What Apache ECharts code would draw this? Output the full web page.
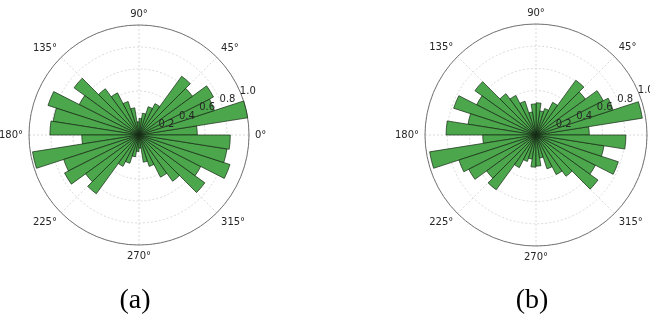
<!DOCTYPE html>
<html>
<head>
<meta charset="utf-8">
<script src="https://cdn.jsdelivr.net/npm/echarts@6/dist/echarts.min.js"></script>
<style>
  html, body { margin: 0; padding: 0; background: #fff; }
  #chart { width: 650px; height: 326px; }
</style>
</head>
<body>
<div id="chart"></div>
<script>
// 40 direction bins of 9 degrees, counter-clockwise from 0 deg
var binNames = []
for (var i = 0; i < 40; i++) binNames.push(i * 9 + '-' + (i + 1) * 9)

// normalised counts per bin, panel (a)
var countsA = [
  0.53, 1.00, 0.72, 0.76, 0.60, 0.66, 0.32, 0.27, 0.20, 0.15,
  0.12, 0.25, 0.32, 0.43, 0.52, 0.73, 0.61, 0.87, 0.79, 0.81,
  0.52, 0.98, 0.72, 0.76, 0.60, 0.66, 0.32, 0.27, 0.20, 0.15,
  0.12, 0.25, 0.30, 0.43, 0.52, 0.74, 0.63, 0.87, 0.81, 0.83
]
// panel (b)
var countsB = [
  0.48, 0.97, 0.73, 0.68, 0.55, 0.61, 0.33, 0.25, 0.22, 0.29,
  0.28, 0.21, 0.32, 0.40, 0.46, 0.68, 0.60, 0.78, 0.62, 0.81,
  0.48, 0.97, 0.73, 0.68, 0.55, 0.61, 0.33, 0.25, 0.22, 0.29,
  0.28, 0.21, 0.32, 0.40, 0.46, 0.69, 0.60, 0.78, 0.62, 0.81
]
var radiusTicks = [0, 0.2, 0.4, 0.6, 0.8, 1.0]
var panelNames = ['(a)', '(b)']

var centers = [[139, 135], [536, 135]]
var radii = [110, 111]
var txt = '#262626'

var polar = [], angleAxis = [], radiusAxis = [], series = []

centers.forEach(function (c, k) {
  // grid + angle labels
  polar.push({ center: c, radius: radii[k] })
  angleAxis.push({
    polarIndex: 3 * k, type: 'value', min: 0, max: 360, interval: 45,
    startAngle: 0, clockwise: false, z: 1,
    axisLine: { lineStyle: { color: '#555', width: 0.8 } },
    axisTick: { show: false },
    splitLine: { lineStyle: { color: '#d0d0d0', type: [2, 2], width: 0.8 } },
    axisLabel: {
      margin: 6, color: txt, fontSize: 10, fontFamily: 'DejaVu Sans',
      formatter: function (v) { return v === 360 ? '' : v + '°' }
    }
  })
  radiusAxis.push({
    polarIndex: 3 * k, type: 'value', min: 0, max: 1, interval: 0.2, z: 1,
    axisLine: { show: false }, axisTick: { show: false }, axisLabel: { show: false },
    splitLine: { lineStyle: { color: '#d0d0d0', type: [2, 2], width: 0.8 } }
  })

  // bars
  polar.push({ center: c, radius: radii[k] })
  angleAxis.push({
    polarIndex: 3 * k + 1, type: 'category', data: binNames,
    startAngle: 0, clockwise: false, show: false
  })
  radiusAxis.push({ polarIndex: 3 * k + 1, type: 'value', min: 0, max: 1, show: false })
  series.push({
    type: 'bar', coordinateSystem: 'polar', polarIndex: 3 * k + 1,
    data: k === 0 ? countsA : countsB,
    barCategoryGap: '0%', z: 5, silent: true,
    itemStyle: { color: '#4ca64c', borderColor: '#142814', borderWidth: 0.7 }
  })

  // radial tick labels along 22.5 deg
  polar.push({ center: c, radius: radii[k] })
  angleAxis.push({
    polarIndex: 3 * k + 2, type: 'value', min: 0, max: 360,
    startAngle: 22.5, clockwise: false, show: false
  })
  radiusAxis.push({
    polarIndex: 3 * k + 2, type: 'value', min: 0, max: 1, interval: 0.2, z: 10,
    data: radiusTicks,
    axisLine: { show: false }, axisTick: { show: false }, splitLine: { show: false },
    axisLabel: {
      showMinLabel: false, color: txt, fontSize: 10, fontFamily: 'DejaVu Sans', margin: 2,
      align: 'left',
      formatter: function (v) { return v.toFixed(1) }
    }
  })
})

var chart = echarts.init(document.getElementById('chart'), null, { renderer: 'canvas' })
chart.setOption({
  backgroundColor: '#fff',
  animation: false,
  polar: polar,
  angleAxis: angleAxis,
  radiusAxis: radiusAxis,
  series: series,
  graphic: panelNames.map(function (n, k) {
    return {
      type: 'text', x: centers[k][0] - 4, y: 301,
      style: {
        text: n, fill: '#000', font: '28px "Liberation Serif"',
        textAlign: 'center', textVerticalAlign: 'middle'
      }
    }
  })
})
</script>
</body>
</html>
